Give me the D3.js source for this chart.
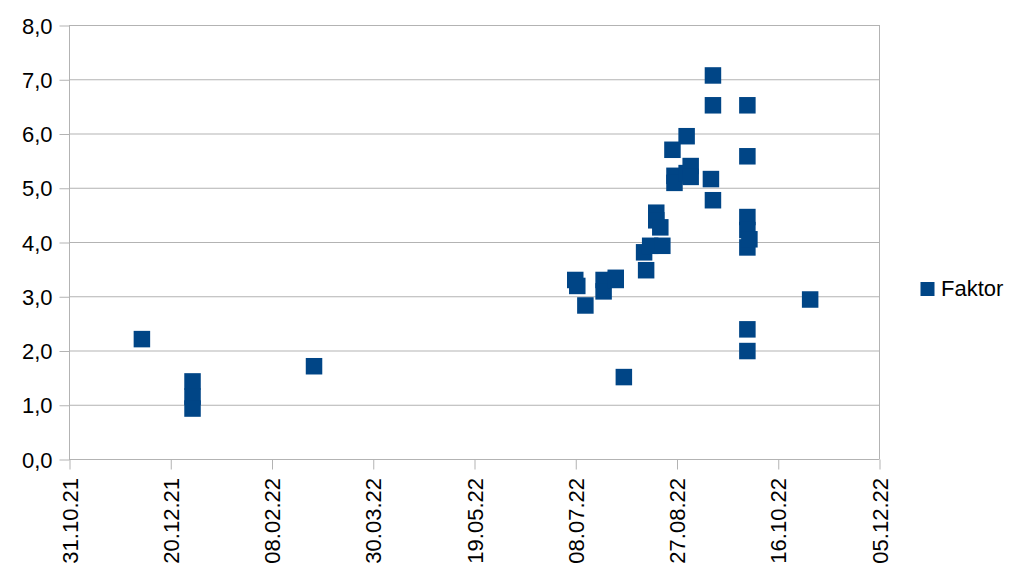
<!DOCTYPE html>
<html><head><meta charset="utf-8">
<script src="https://cdn.jsdelivr.net/npm/d3@7"></script>
<style>body{margin:0;background:#fff}svg{display:block}text{font-family:"Liberation Sans",Arial,sans-serif;fill:#000}</style>
</head><body><svg id="c" width="1028" height="579"></svg>
<script>
const dates = ["06.12.21","31.12.21","31.12.21","31.12.21","01.03.22",
"08.07.22","09.07.22","13.07.22","22.07.22","22.07.22","28.07.22","28.07.22","01.08.22",
"11.08.22","12.08.22","14.08.22","17.08.22","17.08.22","19.08.22","20.08.22",
"25.08.22","26.08.22","26.08.22","01.09.22","01.09.22","03.09.22","03.09.22",
"13.09.22","14.09.22","14.09.22","14.09.22",
"01.10.22","01.10.22","01.10.22","01.10.22","01.10.22","02.10.22","01.10.22","01.10.22","01.11.22"];
const values = [2.21,1.43,1.15,0.93,1.71,
3.30,3.19,2.83,3.30,3.09,3.34,3.30,1.51,
3.81,3.48,3.93,4.54,4.40,4.27,3.93,
5.70,5.22,5.09,5.95,5.27,5.40,5.20,
5.16,4.77,7.07,6.52,
6.52,5.58,4.46,4.22,3.90,4.05,2.39,1.99,2.94];
const xTickLabels = ["31.10.21","20.12.21","08.02.22","30.03.22","19.05.22","08.07.22","27.08.22","16.10.22","05.12.22"];
const yTickValues = [0,1,2,3,4,5,6,7,8];
const seriesName = "Faktor";

const parse = d3.timeParse("%d.%m.%y");
const fmtY = v => d3.format(".1f")(v).replace(".", ",");
const svg = d3.select("#c");
const L = 69, R = 879, T = 25, B = 459;
const FS = 22;
const x = d3.scaleTime().domain([parse(xTickLabels[0]), parse(xTickLabels[xTickLabels.length-1])]).range([L, R]);
const y = d3.scaleLinear().domain([0, 8]).range([B, T]);
const grid = "#b3b3b3";

// gridlines
svg.append("g").selectAll("line").data(yTickValues).join("line")
  .attr("x1", L).attr("x2", R).attr("y1", d => y(d)+0.5).attr("y2", d => y(d)+0.5)
  .attr("stroke", grid).attr("stroke-width", 1);
// right border
svg.append("line").attr("x1", R+0.5).attr("x2", R+0.5).attr("y1", T).attr("y2", B).attr("stroke", grid);

// y axis
const ya = svg.append("g").attr("transform", `translate(${L+0.5},0.5)`)
  .call(d3.axisLeft(y).tickValues(yTickValues).tickFormat(fmtY).tickSize(10).tickPadding(7));
ya.select(".domain").attr("stroke", grid).attr("d", `M0,${T}V${B}`);
ya.selectAll(".tick line").attr("stroke", grid);
ya.selectAll(".tick text").attr("font-size", FS).attr("font-family", "Liberation Sans").attr("fill", "#000").attr("dy", "0.35em");

// x axis
const xa = svg.append("g").attr("transform", `translate(0.5,${B+0.5})`)
  .call(d3.axisBottom(x).tickValues(xTickLabels.map(parse)).tickFormat((d,i) => xTickLabels[i]).tickSize(10));
xa.select(".domain").attr("stroke", grid).attr("d", `M${L},0H${R}`);
xa.selectAll(".tick line").attr("stroke", grid);
xa.selectAll(".tick text").attr("font-size", FS).attr("font-family", "Liberation Sans").attr("fill", "#000")
  .attr("transform", "rotate(-90)").attr("text-anchor", "end").attr("x", -18.5).attr("y", 0).attr("dy", "0.35em");

// points
const s = 16.5;
svg.append("g").selectAll("rect").data(dates.map((d,i) => ({d: parse(d), v: values[i]}))).join("rect")
  .attr("x", d => x(d.d) - s/2).attr("y", d => y(d.v) - s/2).attr("width", s).attr("height", s)
  .attr("fill", "#004586");

// legend
svg.append("rect").attr("x", 920.5).attr("y", 282).attr("width", 14).attr("height", 14).attr("fill", "#004586");
svg.append("text").attr("x", 941).attr("y", 296).attr("font-size", FS).text(seriesName);
</script></body></html>
